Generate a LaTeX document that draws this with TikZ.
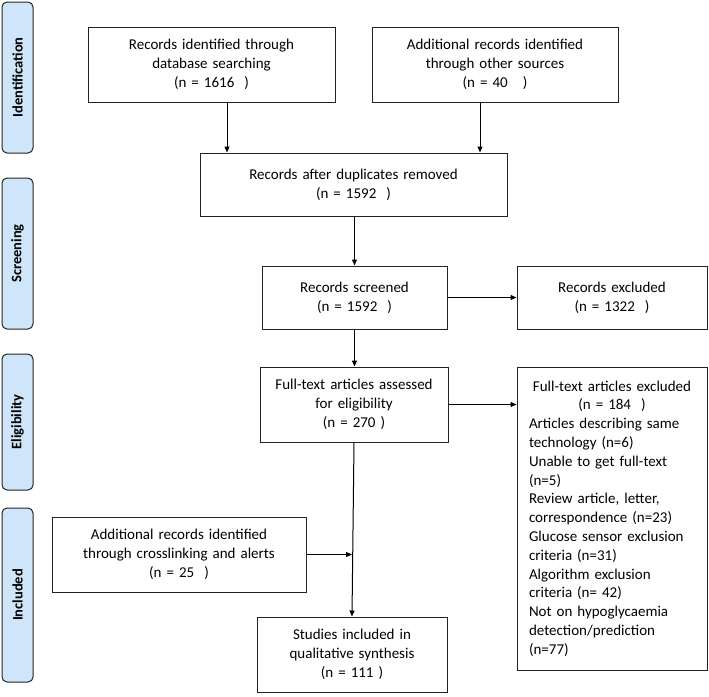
\documentclass[tikz,border=0pt]{standalone}
\usepackage{fontspec}
\setmainfont{Carlito}
\usetikzlibrary{arrows.meta,calc}
\definecolor{sidefill}{RGB}{207,230,250}
\definecolor{lineg}{RGB}{35,35,35}
\tikzset{
  box/.style={draw=lineg, line width=1pt, inner sep=0pt, align=center, font=\fontsize{15}{18.8}\selectfont},
  side/.style={draw=lineg, line width=1pt, fill=sidefill, rounded corners=5pt, inner sep=0pt},
  sidetext/.style={rotate=90, font=\fontsize{14.5}{16}\selectfont\bfseries},
  arr/.style={draw=black, line width=1pt, -{Triangle[length=6pt,width=5pt]}}
}
\begin{document}
\begin{tikzpicture}[x=1pt,y=-1pt]
\useasboundingbox (0,0) rectangle (709,696);
% side bars
\node[side, minimum width=31pt, minimum height=151pt] (s1) at (17.5,77.5) {};
\node[sidetext] (t1) at (s1.center) {Identification};
\node[side, minimum width=31pt, minimum height=151pt] (s2) at (17.5,253.5) {};
\node[sidetext] (t2) at (s2.center) {Screening};
\node[side, minimum width=31pt, minimum height=136pt] (s3) at (17.5,422) {};
\node[sidetext] (t3) at (s3.center) {Eligibility};
\node[side, minimum width=31pt, minimum height=174pt] (s4) at (17.5,595) {};
\node[sidetext] (t4) at (s4.center) {Included};
% boxes
\node[box, minimum width=247pt, minimum height=75pt, text width=240pt] (b1) at (211.5,64.5)
  {Records identified through\\database searching\\(n = 1616\ \ )};
\node[box, minimum width=246pt, minimum height=75pt, text width=240pt] (b2) at (495,64.5)
  {Additional records identified\\through other sources\\(n = 40\ \ \ )};
\node[box, minimum width=307pt, minimum height=63pt, text width=300pt] (b3) at (353.5,184.5)
  {Records after duplicates removed\\(n = 1592\ \ )};
\node[box, minimum width=185pt, minimum height=63pt, text width=180pt] (b4) at (354.5,297.5)
  {Records screened\\(n = 1592\ \ )};
\node[box, minimum width=190pt, minimum height=63pt, text width=184pt] (b5) at (612,297.5)
  {Records excluded\\(n = 1322\ \ )};
\node[box, minimum width=188pt, minimum height=75pt, text width=182pt] (b6) at (354,404.5)
  {Full-text articles assessed\\for eligibility\\(n = 270 )};
\node[box, minimum width=190pt, minimum height=303pt, text width=166pt, align=left] (b7) at (612,518.5)
  {\centering Full-text articles excluded\\(n = 184\ \ )\par\raggedright
   Articles describing same\\technology (n=6)\\Unable to get full-text\\(n=5)\\Review article, letter,\\correspondence (n=23)\\Glucose sensor exclusion\\criteria (n=31)\\Algorithm exclusion\\criteria (n= 42)\\Not on hypoglycaemia\\detection/prediction\\(n=77)};
\node[box, minimum width=254pt, minimum height=75pt, text width=248pt] (b8) at (179,554.5)
  {Additional records identified\\through crosslinking and alerts\\(n = 25\ \ )};
\node[box, minimum width=190pt, minimum height=75pt, text width=184pt] (b9) at (352,654.5)
  {Studies included in\\qualitative synthesis\\(n = 111 )};
% connectors
\coordinate (a1) at (227,0);
\coordinate (a2) at (480,0);
\draw[arr] (a1 |- b1.south) -- (a1 |- b3.north);
\draw[arr] (a2 |- b2.south) -- (a2 |- b3.north);
\draw[arr] (b4.north |- b3.south) -- (b4.north);
\draw[arr] (b4.east) -- (b5.west);
\draw[arr] (b4.south) -- (b4.south |- b6.north);
\draw[arr] (b6.east) -- (b6.east -| b7.west);
\draw[arr] (b6.south) -- (b9.north);
\draw[arr] (b8.east) -- (b8.east -| b9.north);
\end{tikzpicture}
\end{document}
